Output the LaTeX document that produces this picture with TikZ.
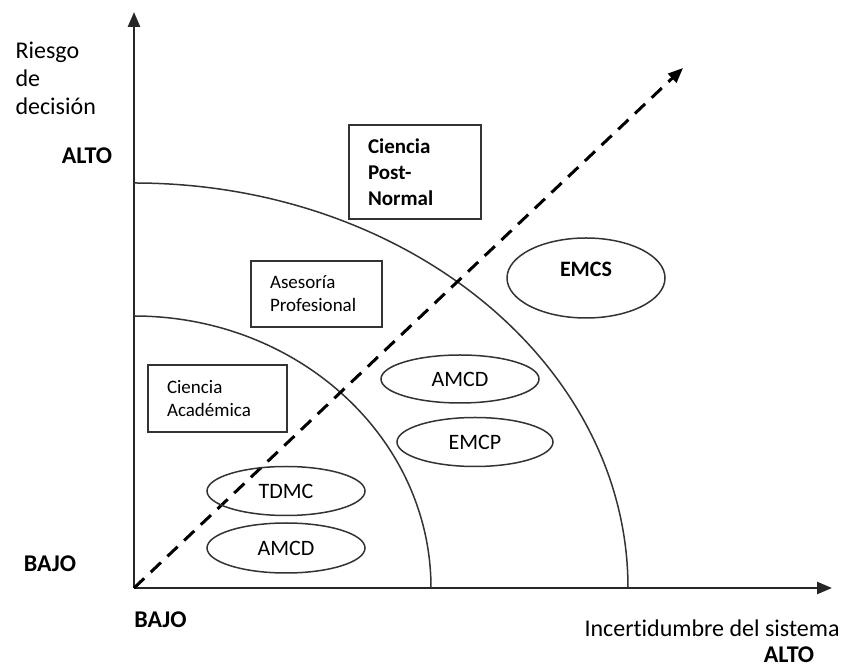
\documentclass[tikz,border=0pt]{standalone}
\usepackage{fontspec}
\setmainfont{Carlito}[Ligatures=NoCommon]
\usepackage{tikz}
\usetikzlibrary{arrows.meta, shapes.geometric, positioning}

\begin{document}
\begin{tikzpicture}[
    x=1pt, y=1pt,
    caja/.style={draw=black!80, line width=1.5pt, rectangle, align=left,
                 inner xsep=19pt, inner ysep=0pt},
    elipse/.style={draw=black!80, line width=1.5pt, ellipse, inner sep=0pt,
                   font=\fontsize{22}{26}\selectfont},
    eje/.style={-{Triangle[length=15pt, width=12pt]}, line width=2.5pt, black!85},
    etiqueta/.style={font=\fontsize{24}{28}\selectfont, align=left},
    nivel/.style={font=\fontsize{24}{28}\selectfont\bfseries}
]
  \useasboundingbox (-134,-80) rectangle (716,588);

  % Ejes
  \coordinate (O) at (0,0);
  \coordinate (ytop) at (0,576);
  \coordinate (xend) at (698,0);
  \coordinate (diag) at (549,520);
  \draw[eje] (O) -- (ytop);
  \draw[eje] (O) -- (xend);

  % Arcos
  \draw[line width=1.5pt, black!80] (0,272) arc[start angle=90, end angle=0, x radius=297, y radius=272];
  \draw[line width=1.5pt, black!80] (0,405) arc[start angle=90, end angle=0, x radius=494, y radius=405];

  % Diagonal
  \draw[-{Triangle[length=15pt, width=12pt]}, line width=3pt, dash pattern=on 14pt off 9pt] (O) -- (diag);

  % Nodes
  \node[caja, text width=94pt, minimum height=94pt, font=\fontsize{21}{26}\selectfont\bfseries]
      (postnormal) at (281,416) {Ciencia\\Post-\\Normal};
  \node[caja, text width=93pt, minimum height=66pt, font=\fontsize{19}{23}\selectfont]
      (asesoria) at (182.5,294) {Asesoría\\Profesional};
  \node[caja, text width=101pt, minimum height=67pt, font=\fontsize{19}{23}\selectfont]
      (academica) at (83.5,189.5) {Ciencia\\Académica};

  \node[elipse, minimum width=158pt, minimum height=48pt] (amcdalto) at (326,209) {AMCD};
  \node[elipse, minimum width=156pt, minimum height=49pt] (emcp) at (341,146) {EMCP};
  \node[elipse, minimum width=158pt, minimum height=49pt] (tdmc) at (152,97) {TDMC};
  \node[elipse, minimum width=158pt, minimum height=50pt] (amcdbajo) at (152,40) {AMCD};
  \node[elipse, minimum width=158pt, minimum height=80pt, text depth=17pt,
        font=\fontsize{22}{26}\selectfont\bfseries] (emcs) at (452,310) {EMCS};

  % Etiquetas de ejes
  \node[etiqueta, anchor=west] (riesgo) at (-122,510) {Riesgo\\de\\decisión};
  \node[nivel] (yalto) at (-47,432) {ALTO};
  \node[nivel] (ybajo) at (-84,24) {BAJO};
  \node[nivel] (xbajo) at (26.5,-32) {BAJO};
  \node[etiqueta] (incert) at (578,-40) {Incertidumbre del sistema};
  \node[nivel] (xalto) at (655,-67) {ALTO};
\end{tikzpicture}
\end{document}
